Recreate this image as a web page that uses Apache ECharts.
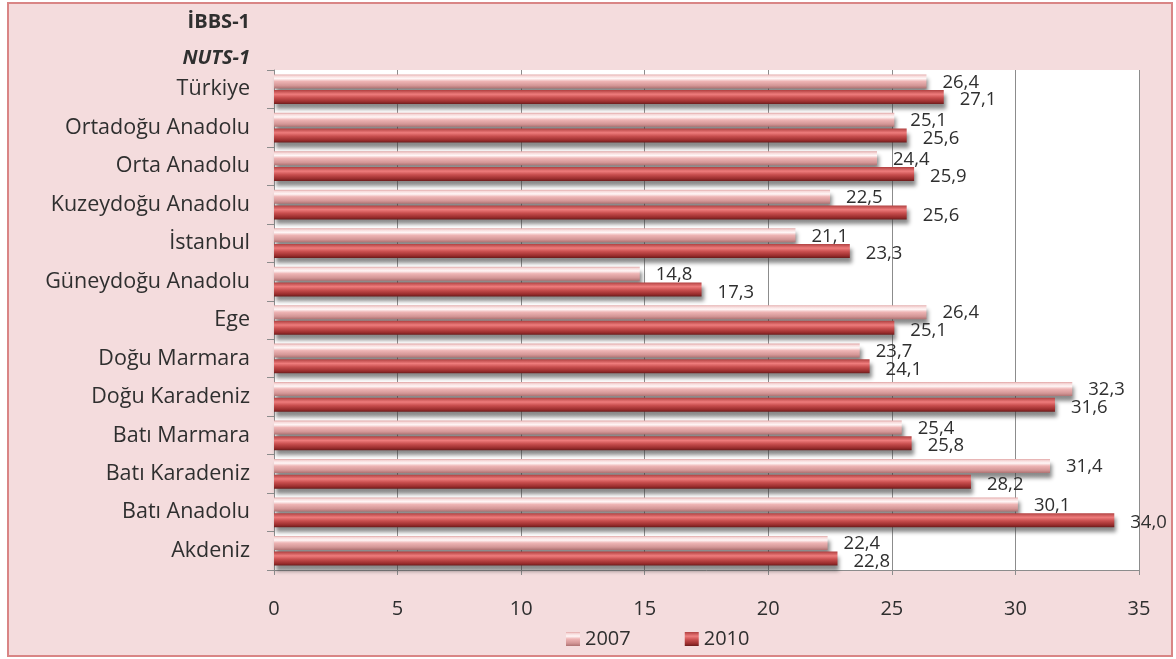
<!DOCTYPE html>
<html>
<head>
<meta charset="utf-8">
<script src="https://cdn.jsdelivr.net/npm/echarts@6/dist/echarts.min.js"></script>
<style>
  html, body { margin: 0; padding: 0; background: #ffffff; }
  #chart { width: 1176px; height: 659px; }
</style>
</head>
<body>
<div id="chart"></div>
<script>
// NUTS-1 regions, top to bottom
const regions = [
  'Türkiye', 'Ortadoğu Anadolu', 'Orta Anadolu', 'Kuzeydoğu Anadolu', 'İstanbul',
  'Güneydoğu Anadolu', 'Ege', 'Doğu Marmara', 'Doğu Karadeniz', 'Batı Marmara',
  'Batı Karadeniz', 'Batı Anadolu', 'Akdeniz'
];
const values2007 = [26.4, 25.1, 24.4, 22.5, 21.1, 14.8, 26.4, 23.7, 32.3, 25.4, 31.4, 30.1, 22.4];
const values2010 = [27.1, 25.6, 25.9, 25.6, 23.3, 17.3, 25.1, 24.1, 31.6, 25.8, 28.2, 34.0, 22.8];
const seriesNames = ['2007', '2010'];
const headerLines = ['İBBS-1', 'NUTS-1'];

const FONT = '"Open Sans", "DejaVu Sans", sans-serif';
const TEXT = '#2f2f2f';
const AXIS = '#8c8c8c';

const fmt = v => v.toFixed(1).replace('.', ',');

// glossy cylinder-like fills
const fill2007 = new echarts.graphic.LinearGradient(0, 0, 0, 1, [
  { offset: 0, color: '#e2a7a7' },
  { offset: 0.12, color: '#f7dada' },
  { offset: 0.3, color: '#fff6f6' },
  { offset: 0.5, color: '#eeb4b4' },
  { offset: 0.8, color: '#d39696' },
  { offset: 1, color: '#ae7272' }
]);
const fill2010 = new echarts.graphic.LinearGradient(0, 0, 0, 1, [
  { offset: 0, color: '#b04040' },
  { offset: 0.3, color: '#ee7c7c' },
  { offset: 0.55, color: '#c84e4e' },
  { offset: 0.85, color: '#982c2c' },
  { offset: 1, color: '#6a1c1c' }
]);

const barStyle = fill => ({
  color: fill,
  shadowColor: 'rgba(60,60,60,0.6)',
  shadowBlur: 4,
  shadowOffsetX: 2,
  shadowOffsetY: 5
});

const chart = echarts.init(document.getElementById('chart'), null, { renderer: 'canvas' });

chart.setOption({
  backgroundColor: '#ffffff',
  animation: false,
  graphic: [
    {
      type: 'rect', z: -10, silent: true,
      shape: { x: 8, y: 3, width: 1164, height: 653 },
      style: { fill: '#f4dcdd', stroke: '#d98585', lineWidth: 2 }
    },
    {
      type: 'text', x: 250, y: 22, silent: true,
      style: { text: headerLines[0], align: 'right', verticalAlign: 'middle',
        font: 'bold 20px ' + FONT, fill: TEXT }
    },
    {
      type: 'text', x: 250, y: 58, silent: true,
      style: { text: headerLines[1], align: 'right', verticalAlign: 'middle',
        font: 'italic bold 20px ' + FONT, fill: TEXT }
    }
  ],
  legend: {
    data: seriesNames,
    top: 624,
    left: 561,
    itemWidth: 14,
    itemHeight: 14,
    itemGap: 54,
    icon: 'rect',
    textStyle: { fontFamily: FONT, fontSize: 20, color: TEXT }
  },
  grid: {
    left: 274, right: 37, top: 70, bottom: 89,
    show: true, backgroundColor: '#ffffff', borderWidth: 0
  },
  xAxis: {
    type: 'value',
    min: 0, max: 35, interval: 5,
    axisLine: { show: true, lineStyle: { color: AXIS, width: 1 } },
    axisTick: { show: true, length: 5, lineStyle: { color: AXIS } },
    axisLabel: { margin: 29, fontFamily: FONT, fontSize: 20, color: TEXT },
    splitLine: { show: true, lineStyle: { color: AXIS, width: 1 } }
  },
  yAxis: {
    type: 'category',
    data: regions,
    inverse: true,
    axisLine: { show: true, lineStyle: { color: AXIS, width: 1 } },
    axisTick: { show: true, length: 7, lineStyle: { color: AXIS } },
    axisLabel: { margin: 24, fontFamily: FONT, fontSize: 21.5, color: TEXT }
  },
  series: [
    {
      name: seriesNames[0], type: 'bar', data: values2007,
      barWidth: 14, barGap: '12%',
      itemStyle: barStyle(fill2007),
      label: {
        show: true, position: 'right', distance: 16, offset: [0, 1],
        formatter: p => fmt(p.value),
        fontFamily: FONT, fontSize: 18.5, color: TEXT
      }
    },
    {
      name: seriesNames[1], type: 'bar', data: values2010,
      barWidth: 14, barGap: '12%',
      itemStyle: barStyle(fill2010),
      label: {
        show: true, position: 'right', distance: 16, offset: [0, 3],
        formatter: p => fmt(p.value),
        fontFamily: FONT, fontSize: 18.5, color: TEXT
      }
    }
  ]
});
</script>
</body>
</html>
